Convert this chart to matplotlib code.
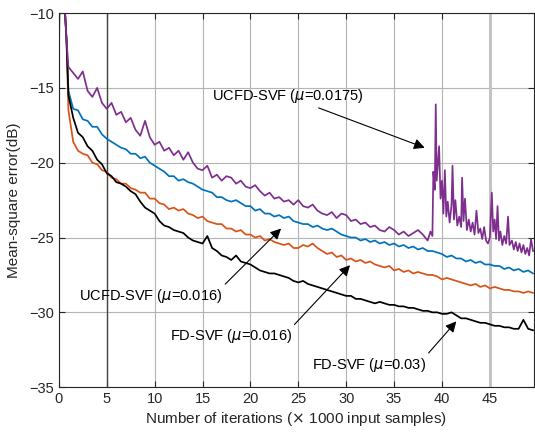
import numpy as np
import matplotlib
matplotlib.use("Agg")
import matplotlib.pyplot as plt

plt.rcParams['font.family'] = ['Liberation Sans', 'DejaVu Sans']
plt.rcParams['mathtext.fontset'] = 'dejavusans'

# common start-up transient (x in 1000 samples, MSE in dB)
x_head = [0.0, 0.08, 0.3, 0.5, 0.65, 0.8]
y_head = [-17.2, -2.0, -5.0, -7.5, -10.0, -11.8]

# curves sampled every 0.5 from x = 1.0
ucfd_0175 = [-13.6, -14.0, -14.4, -13.9, -15.2, -15.6, -15.0, -16.0, -16.4, -16.0,
             -16.8, -16.6, -17.3, -17.0, -17.8, -18.2, -17.2, -18.3, -18.8, -18.6,
             -19.2, -19.0, -19.5, -19.2, -19.8, -19.3, -20.0, -20.4, -20.5, -20.2,
             -21.0, -20.8, -21.2, -20.9, -21.0, -21.4, -21.2, -21.6, -21.7, -21.5,
             -21.9, -22.2, -22.0, -22.4, -22.3, -22.6, -22.5, -22.8, -22.5, -22.9,
             -23.0, -22.8, -23.2, -23.4, -23.5, -23.3, -23.7, -23.4, -23.5, -23.9,
             -23.8, -24.1, -24.0, -24.3, -24.2, -24.5, -24.6, -24.3, -24.5, -24.8,
             -24.6, -24.9, -24.7, -24.5, -24.8, -25.2]
# burst region of the mu=0.0175 curve
tail_x = [38.8, 39.0, 39.1, 39.25, 39.35, 39.45, 39.55, 39.7, 39.85, 40.0,
          40.15, 40.3, 40.45, 40.6, 40.8, 41.0, 41.1, 41.25, 41.4, 41.6,
          41.8, 42.0, 42.1, 42.25, 42.4, 42.6, 42.8, 43.0, 43.2, 43.4,
          43.6, 43.8, 44.0, 44.2, 44.4, 44.6, 44.8, 45.0, 45.2, 45.35,
          45.5, 45.65, 45.8, 45.95, 46.1, 46.3, 46.5, 46.7, 46.9, 47.05,
          47.3, 47.5, 47.7, 47.9, 48.1, 48.3, 48.5, 48.7, 48.9, 49.1,
          49.3, 49.5]
tail_y = [-24.6, -24.9, -20.6, -21.8, -16.1, -21.2, -20.3, -18.9, -22.4, -21.2,
          -23.4, -20.5, -23.6, -22.6, -24.0, -22.8, -20.2, -23.8, -22.5, -24.2,
          -23.6, -24.3, -21.0, -23.9, -22.4, -24.5, -23.8, -24.6, -24.0, -24.8,
          -23.2, -24.7, -24.4, -25.1, -24.3, -25.2, -25.4, -25.0, -22.0, -24.6,
          -23.8, -25.1, -22.9, -25.2, -24.6, -25.5, -24.9, -25.4, -23.6, -25.5,
          -25.2, -25.8, -25.3, -25.9, -25.4, -26.0, -25.5, -26.1, -25.7, -26.2,
          -25.1, -25.9]

ucfd_016 = [-15.2, -16.4, -16.5, -17.1, -17.2, -17.6, -17.6, -18.1, -18.4, -18.6,
            -18.8, -19.0, -19.1, -19.4, -19.4, -19.7, -19.6, -20.0, -20.2, -20.4,
            -20.6, -20.9, -20.9, -21.2, -21.1, -21.3, -21.4, -21.6, -21.8, -21.9,
            -22.0, -22.3, -22.3, -22.5, -22.6, -22.5, -22.7, -22.9, -22.9, -23.2,
            -23.1, -23.4, -23.4, -23.6, -23.5, -23.7, -23.6, -23.9, -24.0, -24.1,
            -24.1, -24.3, -24.2, -24.4, -24.5, -24.4, -24.6, -24.8, -24.9, -25.0,
            -25.0, -25.2, -25.1, -25.3, -25.2, -25.4, -25.3, -25.5, -25.4, -25.6,
            -25.5, -25.7, -25.6, -25.8, -25.7, -25.9, -25.9, -26.0, -26.1, -26.3,
            -26.2, -26.4, -26.4, -26.6, -26.5, -26.7, -26.6, -26.8, -26.8, -26.9,
            -26.9, -27.1, -27.0, -27.2, -27.1, -27.3, -27.2, -27.4]

fd_016 = [-16.5, -18.6, -19.2, -19.4, -19.5, -20.0, -20.1, -20.5, -20.6, -21.0,
          -21.1, -21.4, -21.4, -21.7, -21.8, -22.0, -22.0, -22.4, -22.4, -22.7,
          -22.8, -23.1, -23.0, -23.2, -23.1, -23.4, -23.5, -23.7, -23.6, -23.9,
          -24.0, -24.1, -24.1, -24.4, -24.4, -24.6, -24.5, -24.8, -24.8, -25.0,
          -24.9, -25.2, -25.1, -25.3, -25.4, -25.5, -25.4, -25.7, -25.7, -25.5,
          -25.6, -25.4, -25.7, -25.9, -26.1, -26.0, -26.3, -26.2, -26.5, -26.4,
          -26.6, -26.5, -26.7, -26.6, -26.8, -26.9, -27.0, -26.9, -27.2, -27.1,
          -27.3, -27.2, -27.4, -27.3, -27.4, -27.5, -27.5, -27.6, -27.8, -27.7,
          -27.8, -27.9, -28.0, -28.1, -28.2, -28.1, -28.3, -28.2, -28.4, -28.3,
          -28.4, -28.5, -28.5, -28.6, -28.6, -28.7, -28.6, -28.7]

fd_03 = [-15.5, -17.0, -18.0, -18.3, -18.9, -19.2, -19.8, -20.1, -20.7, -20.9,
         -21.3, -21.4, -21.6, -21.9, -22.1, -22.6, -23.0, -23.2, -23.4, -23.9,
         -24.2, -24.3, -24.5, -24.6, -24.7, -25.0, -25.2, -25.3, -25.4, -24.9,
         -25.7, -25.9, -26.2, -26.3, -26.5, -26.2, -26.6, -26.7, -26.8, -27.0,
         -27.2, -27.3, -27.4, -27.4, -27.5, -27.6, -27.7, -27.9, -28.0, -27.9,
         -28.1, -28.2, -28.3, -28.4, -28.5, -28.6, -28.7, -28.8, -28.9, -28.9,
         -29.1, -29.1, -29.2, -29.3, -29.4, -29.3, -29.4, -29.5, -29.5, -29.6,
         -29.6, -29.7, -29.7, -29.8, -29.9, -29.9, -30.0, -30.0, -30.1, -30.1,
         -30.0, -30.2, -30.4, -30.4, -30.5, -30.6, -30.7, -30.7, -30.8, -30.9,
         -30.9, -31.0, -31.0, -31.1, -31.1, -30.5, -31.1, -31.2]


def grid_x(vals):
    return list(1.0 + 0.5 * np.arange(len(vals)))


fig = plt.figure(figsize=(5.35, 4.36), dpi=100)
ax = fig.add_axes([0.110, 0.112, 0.888, 0.858])

lw = 1.25
ax.plot(x_head + grid_x(ucfd_016), y_head + ucfd_016, color='#0072BD', lw=lw)
ax.plot(x_head + grid_x(fd_016), y_head + fd_016, color='#D95319', lw=lw)
ax.plot(x_head + grid_x(fd_03), y_head + fd_03, color='k', lw=lw)
ax.plot(x_head + grid_x(ucfd_0175) + tail_x, y_head + ucfd_0175 + tail_y,
        color='#7E2F8E', lw=lw)

ax.set_xlim(0, 49.6)
ax.set_ylim(-35, -10)
ax.set_xticks(range(0, 50, 5))
ax.set_yticks(range(-35, -9, 5))
ax.grid(True, color='#b4b4b4', lw=0.8)
ax.set_axisbelow(True)
ax.axvline(5, color='#444444', lw=1.0, zorder=1)
ax.axvline(45, color='#c4c4c4', lw=2.2, zorder=1)

ax.tick_params(direction='in', top=True, right=True, length=4,
               labelsize=10.5, colors='#262626')
for s in ax.spines.values():
    s.set_color('#262626')
    s.set_linewidth(0.8)

ax.set_xlabel(r'Number of iterations ($\times$ 1000 input samples)',
              fontsize=11, color='#262626', labelpad=3)
ax.set_ylabel('Mean-square error(dB)', fontsize=11, color='#262626', labelpad=6)

arrow = dict(arrowstyle='-|>', color='k', lw=0.8, mutation_scale=16,
             shrinkA=0, shrinkB=0)
ax.annotate(r'UCFD-SVF ($\mu$=0.0175)', xy=(38.2, -19.0), xytext=(23.85, -15.55),
            ha='center', va='center', fontsize=10.5, arrowprops=arrow)
ax.annotate(r'UCFD-SVF ($\mu$=0.016)', xy=(23.2, -24.4), xytext=(9.6, -28.9),
            ha='center', va='center', fontsize=10.5,
            arrowprops=dict(arrow, relpos=(1.0, 1.0)))
ax.annotate(r'FD-SVF ($\mu$=0.016)', xy=(30.4, -26.85), xytext=(17.95, -31.6),
            ha='center', va='center', fontsize=10.5,
            arrowprops=dict(arrow, relpos=(1.0, 1.0)))
ax.annotate(r'FD-SVF ($\mu$=0.03)', xy=(41.5, -30.6), xytext=(32.4, -33.5),
            ha='center', va='center', fontsize=10.5,
            arrowprops=dict(arrow, relpos=(1.0, 1.0)))

fig.savefig('out.png', dpi=100)
